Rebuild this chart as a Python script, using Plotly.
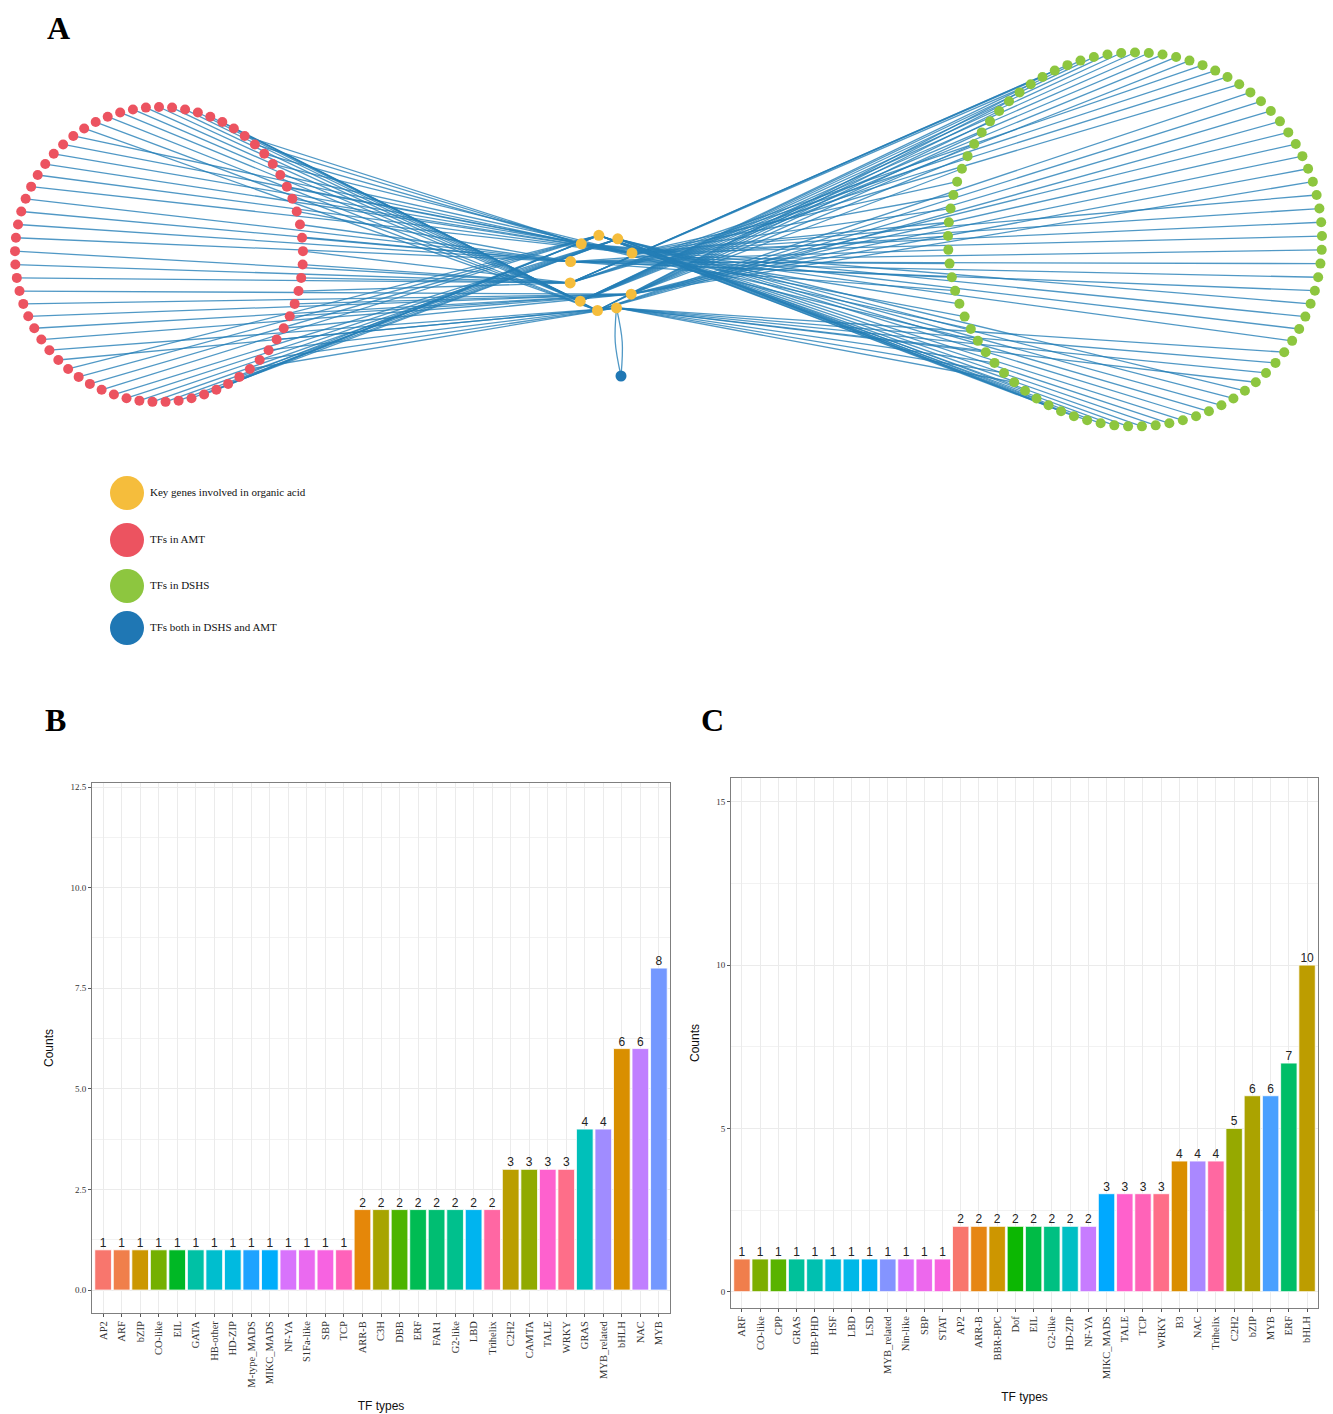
import math, re
import plotly.graph_objects as go

# ---------------- data ----------------
# Panel B (TFs in AMT)
b_types = ["AP2", "ARF", "bZIP", "CO-like", "EIL", "GATA", "HB-other", "HD-ZIP",
           "M-type_MADS", "MIKC_MADS", "NF-YA", "S1Fa-like", "SBP", "TCP",
           "ARR-B", "C3H", "DBB", "ERF", "FAR1", "G2-like", "LBD", "Trihelix",
           "C2H2", "CAMTA", "TALE", "WRKY", "GRAS", "MYB_related", "bHLH", "NAC", "MYB"]
b_counts = [1, 1, 1, 1, 1, 1, 1, 1, 1, 1, 1, 1, 1, 1,
            2, 2, 2, 2, 2, 2, 2, 2,
            3, 3, 3, 3, 4, 4, 6, 6, 8]

# Panel C (TFs in DSHS)
c_types = ["ARF", "CO-like", "CPP", "GRAS", "HB-PHD", "HSF", "LBD", "LSD",
           "MYB_related", "Nin-like", "SBP", "STAT",
           "AP2", "ARR-B", "BBR-BPC", "Dof", "EIL", "G2-like", "HD-ZIP", "NF-YA",
           "MIKC_MADS", "TALE", "TCP", "WRKY", "B3", "NAC", "Trihelix",
           "C2H2", "bZIP", "MYB", "ERF", "bHLH"]
c_counts = [1, 1, 1, 1, 1, 1, 1, 1, 1, 1, 1, 1,
            2, 2, 2, 2, 2, 2, 2, 2,
            3, 3, 3, 3, 4, 4, 4,
            5, 6, 6, 7, 10]

# Panel A network
n_amt_only = 69      # red nodes
n_dshs_only = 85     # green nodes
n_genes = 10         # yellow key genes
# edges: number of AMT / DSHS TFs linked to each key gene
amt_links = [8, 7, 7, 8, 6, 6, 7, 7, 7, 6]
dshs_links = [9, 9, 8, 9, 8, 8, 9, 8, 9, 8]
# order in which gene blocks are reached from top to bottom of each circle
amt_block_order = [6, 5, 9, 2, 8, 7, 3, 4, 0, 1]
dshs_block_order = [6, 7, 5, 3, 2, 8, 9, 4, 1, 0]
both_gene = 4        # gene linked to the shared TF (2 edges)

legend_labels = ["Key genes involved in organic acid", "TFs in AMT",
                 "TFs in DSHS", "TFs both in DSHS and AMT"]

# ---------------- styles ----------------
YELLOW = "#F5BD3C"
RED = "#EC5360"
GREEN = "#8DC63F"
BLUE = "#1F77B4"
EDGE = "rgba(36,126,182,0.8)"
W, H = 1333, 1414


def hcl_hex(h, c=100.0, l=65.0):
    hr = math.radians(h)
    u, v = c * math.cos(hr), c * math.sin(hr)
    Xn, Yn, Zn = 95.047, 100.0, 108.883
    Y = Yn * ((l + 16) / 116) ** 3
    den = Xn + 15 * Yn + 3 * Zn
    un, vn = 4 * Xn / den, 9 * Yn / den
    up, vp = u / (13 * l) + un, v / (13 * l) + vn
    X = Y * 9 * up / (4 * vp)
    Z = Y * (12 - 3 * up - 20 * vp) / (4 * vp)
    X, Y, Z = X / 100, Y / 100, Z / 100
    r = 3.2404542 * X - 1.5371385 * Y - 0.4985314 * Z
    g = -0.9692660 * X + 1.8760108 * Y + 0.0415560 * Z
    b = 0.0556434 * X - 0.2040259 * Y + 1.0572252 * Z
    out = []
    for ch in (r, g, b):
        ch = 12.92 * ch if ch <= 0.0031308 else 1.055 * ch ** (1 / 2.4) - 0.055
        out.append(int(round(min(max(ch, 0), 1) * 255)))
    return "#%02X%02X%02X" % tuple(out)


def palette_for(types):
    key = lambda s: re.sub(r"[^a-z0-9]", "", s.lower())
    lv = sorted(types, key=key)
    n = len(lv)
    cmap = {t: hcl_hex(15 + i * 360.0 / n) for i, t in enumerate(lv)}
    return [cmap[t] for t in types]


fig = go.Figure()

# ---------------- Panel A: network ----------------
def ellipse(n, cx, cy, rx, ry, start=-90.0):
    pts = []
    for i in range(n):
        a = math.radians(start + i * 360.0 / n)
        pts.append((cx + rx * math.cos(a), cy + ry * math.sin(a)))
    return pts

red_pts = ellipse(n_amt_only, 159, 254.5, 144, 147.5)
green_pts = ellipse(n_dshs_only, 1135, 239.5, 187, 187)
slots = ellipse(n_genes + 1, 603, 273, 34, 38, start=-97)
gene_pts = [p for i, p in enumerate(slots) if i != 3]
both_pt = (621, 376)


def edges_for(pts, links, order):
    idx = sorted(range(len(pts)), key=lambda i: pts[i][1])
    ex, ey = [], []
    k = 0
    for g in order:
        for _ in range(links[g]):
            p = pts[idx[k]]
            q = gene_pts[g]
            ex += [p[0], q[0], None]
            ey += [p[1], q[1], None]
            k += 1
    return ex, ey

ax1, ay1 = edges_for(red_pts, amt_links, amt_block_order)
ax2, ay2 = edges_for(green_pts, dshs_links, dshs_block_order)
fig.add_trace(go.Scatter(x=ax1 + ax2, y=ay1 + ay2, mode="lines",
                         line=dict(color=EDGE, width=1.3), xaxis="x3", yaxis="y3",
                         hoverinfo="skip", showlegend=False))
gq = gene_pts[both_gene]
for off in (-3.5, 3.5):
    fig.add_trace(go.Scatter(x=[both_pt[0], (both_pt[0] + gq[0]) / 2 + off, gq[0]],
                             y=[both_pt[1], (both_pt[1] + gq[1]) / 2, gq[1]],
                             mode="lines", line=dict(color=EDGE, width=1.3, shape="spline"),
                             xaxis="x3", yaxis="y3", hoverinfo="skip", showlegend=False))

for pts, col, sz in [(red_pts, RED, 10), (green_pts, GREEN, 10),
                     (gene_pts, YELLOW, 11), ([both_pt], BLUE, 11)]:
    fig.add_trace(go.Scatter(x=[p[0] for p in pts], y=[p[1] for p in pts], mode="markers",
                             marker=dict(color=col, size=sz, line=dict(width=0)),
                             xaxis="x3", yaxis="y3", showlegend=False))

# legend of panel A
leg_y = [493, 540, 586, 628]
fig.add_trace(go.Scatter(x=[127] * 4, y=leg_y, mode="markers",
                         marker=dict(color=[YELLOW, RED, GREEN, BLUE], size=34, line=dict(width=0)),
                         xaxis="x3", yaxis="y3", showlegend=False))
fig.add_trace(go.Scatter(x=[150] * 4, y=leg_y, mode="text", text=legend_labels,
                         textposition="middle right",
                         textfont=dict(family="Liberation Serif", size=11, color="#111"),
                         xaxis="x3", yaxis="y3", showlegend=False))

# ---------------- Panels B & C: bars ----------------
for types, counts, xa, ya in [(b_types, b_counts, "x", "y"), (c_types, c_counts, "x2", "y2")]:
    fig.add_trace(go.Bar(x=types, y=counts, marker=dict(color=palette_for(types),
                                                        line=dict(color="white", width=0.8)),
                         width=0.9, xaxis=xa, yaxis=ya, showlegend=False))
    fig.add_trace(go.Scatter(x=types, y=counts, mode="text", text=[str(c) for c in counts],
                             textposition="top center",
                             textfont=dict(family="Liberation Sans", size=12, color="#222"),
                             xaxis=xa, yaxis=ya, showlegend=False, cliponaxis=False))


def dom_x(a, b):
    return [a / W, b / W]


def dom_y(top, bottom):
    return [1 - bottom / H, 1 - top / H]


xtickfont = dict(family="Liberation Serif", size=10.5, color="#333")
ytickfont = dict(family="Liberation Serif", size=9, color="#333")
common_x = dict(type="category", showgrid=True, gridcolor="#EBEBEB", gridwidth=1,
                showline=True, mirror=True, linecolor="#7F7F7F", linewidth=1,
                ticks="outside", ticklen=3, tickcolor="#555", tickangle=-90,
                tickfont=xtickfont, zeroline=False,
                title=dict(text="TF types", font=dict(family="Liberation Sans", size=12, color="#111"),
                           standoff=14))
common_y = dict(showgrid=True, gridcolor="#EBEBEB", gridwidth=1,
                showline=True, mirror=True, linecolor="#7F7F7F", linewidth=1,
                ticks="outside", ticklen=3, tickcolor="#555", tickfont=ytickfont,
                zeroline=False,
                title=dict(text="Counts", font=dict(family="Liberation Sans", size=12, color="#111"),
                           standoff=14))

fig.update_layout(
    width=W, height=H, margin=dict(l=0, r=0, t=0, b=0),
    paper_bgcolor="white", plot_bgcolor="white",
    xaxis=dict(common_x, domain=dom_x(92, 670), range=[-0.6, len(b_types) - 0.4], anchor="y"),
    yaxis=dict(common_y, domain=dom_y(783, 1313), range=[-0.57, 12.6],
               tickvals=[0, 2.5, 5, 7.5, 10, 12.5],
               ticktext=["0.0", "2.5", "5.0", "7.5", "10.0", "12.5"],
               minor=dict(tickvals=[1.25, 3.75, 6.25, 8.75, 11.25], showgrid=True,
                          gridcolor="#F2F2F2", ticks=""),
               anchor="x"),
    xaxis2=dict(common_x, domain=dom_x(731, 1318), range=[-0.6, len(c_types) - 0.4], anchor="y2"),
    yaxis2=dict(common_y, domain=dom_y(778, 1308), range=[-0.5, 15.73],
                tickvals=[0, 5, 10, 15],
                minor=dict(tickvals=[2.5, 7.5, 12.5], showgrid=True, gridcolor="#F2F2F2", ticks=""),
                anchor="x2"),
    xaxis3=dict(domain=[0, 1], range=[0, W], visible=False, anchor="y3"),
    yaxis3=dict(domain=dom_y(0, 690), range=[690, 0], visible=False, anchor="x3"),
)

for txt, x, y in [("A", 58, 28), ("B", 55, 720), ("C", 713, 720)]:
    fig.add_annotation(text="<b>%s</b>" % txt, x=x / W, y=1 - y / H, xref="paper", yref="paper",
                       xanchor="center", yanchor="middle", showarrow=False,
                       font=dict(family="Liberation Serif", size=32, color="black"))

fig.write_html("out.html", config={"displayModeBar": False},
               post_script="document.body.style.margin='0';document.body.style.padding='0';")
